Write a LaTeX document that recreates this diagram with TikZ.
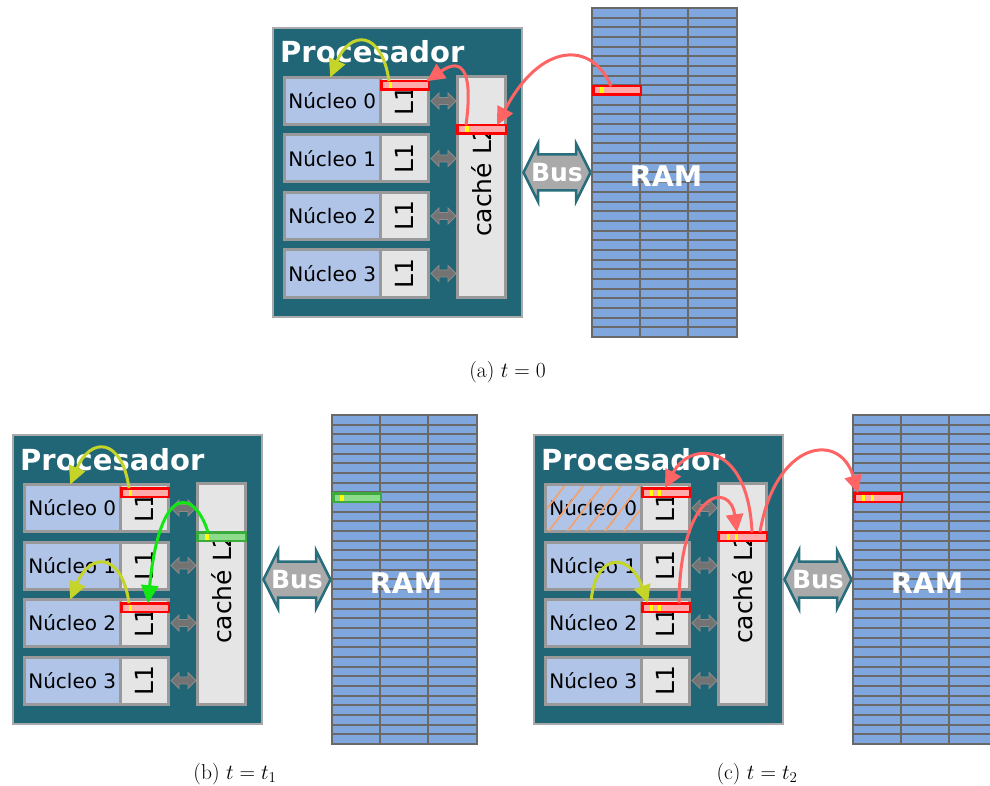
\documentclass[tikz,border=0pt]{standalone}
\usepackage{fix-cm}
\usepackage{fontspec}
\newfontfamily\dejavu{DejaVu Sans}
\usetikzlibrary{arrows.meta}

\definecolor{proc}{RGB}{33,102,118}
\definecolor{procedge}{RGB}{170,170,170}
\definecolor{coreblue}{RGB}{176,196,232}
\definecolor{cachegray}{RGB}{229,229,229}
\definecolor{boxedge}{RGB}{153,153,153}
\definecolor{linkgray}{RGB}{115,115,115}
\definecolor{linkedge}{RGB}{140,140,140}
\definecolor{busgray}{RGB}{170,170,170}
\definecolor{busedge}{RGB}{40,110,125}
\definecolor{ramblue}{RGB}{128,166,222}
\definecolor{ramline}{RGB}{105,105,105}
\definecolor{hlredline}{RGB}{255,0,0}
\definecolor{hlredfill}{RGB}{255,170,170}
\definecolor{hlgreenline}{RGB}{60,170,60}
\definecolor{hlgreenfill}{RGB}{140,220,140}
\definecolor{markyellow}{RGB}{255,255,0}
\definecolor{flowred}{RGB}{255,100,100}
\definecolor{flowyg}{RGB}{196,212,40}
\definecolor{flowgreen}{RGB}{20,230,20}
\definecolor{hatchorange}{RGB}{242,164,112}

\tikzset{
  procbox/.style={draw=procedge, fill=proc, line width=2, inner sep=0, outer sep=0},
  proclabel/.style={text=white, font=\dejavu\bfseries\fontsize{29}{34}\selectfont, inner sep=0},
  corebox/.style={draw=boxedge, fill=coreblue, line width=3, inner sep=0, outer sep=0,
    font=\dejavu\fontsize{20}{24}\selectfont},
  cachebox/.style={draw=boxedge, fill=cachegray, line width=3, inner sep=0, outer sep=0},
  cachelabel/.style={font=\dejavu\fontsize{25}{30}\selectfont, inner sep=0, rotate=90},
  linkshape/.style={fill=linkgray, draw=linkedge, line width=0.8},
  busshape/.style={fill=busgray, draw=busedge, line width=2.5, line join=miter},
  buslabel/.style={text=white, font=\dejavu\bfseries\fontsize{25}{30}\selectfont, inner sep=0},
  rambox/.style={fill=ramblue, draw=ramline, line width=2, inner sep=0, outer sep=0},
  ramgrid/.style={draw=ramline, line width=2},
  ramlabel/.style={text=white, font=\dejavu\bfseries\fontsize{28.5}{34}\selectfont, inner sep=0},
  hlred/.style={draw=hlredline, fill=hlredfill, line width=2.5, inner sep=0, outer sep=0},
  hlgreen/.style={draw=hlgreenline, fill=hlgreenfill, line width=2.5, inner sep=0, outer sep=0},
  flow/.style={line width=3, -{Triangle[length=18pt,width=17pt]}},
  redflow/.style={flow, color=flowred},
  ygflow/.style={flow, color=flowyg},
  greenflow/.style={flow, color=flowgreen},
  hatchline/.style={draw=hatchorange, line width=1.8},
  caption/.style={font=\fontsize{21.5}{26}\selectfont, inner sep=0},
}

% fat double arrow between an L1 and the L2 cache
\newcommand\linkarrow[2]{%
  \filldraw[linkshape] (#1-12.5,#2) -- (#1-4.5,#2-8) -- (#1-4.5,#2-3.5) -- (#1+4.5,#2-3.5)
    -- (#1+4.5,#2-8) -- (#1+12.5,#2) -- (#1+4.5,#2+8) -- (#1+4.5,#2+3.5)
    -- (#1-4.5,#2+3.5) -- (#1-4.5,#2+8) -- cycle;}

% highlighted cache line: name, style, left, top, width, mark offsets
\newcommand\hlbox[6]{%
  \node[#2, minimum width=#5-2.5, minimum height=8.5, anchor=north west] (#1) at (#3+1.25,#4+1.25) {};
  \foreach \m in {#6} {\fill[markyellow] (#3+\m,#4+2.5) rectangle ++(3.5,6);}
}

% processor with four cores, L2, bus and memory; #1 prefixes the node names
\newcommand\panelbase[1]{%
  \node[procbox, minimum width=248.7, minimum height=289.3, anchor=north west] (#1proc) at (273,28) {};
  \node[proclabel, anchor=base west] (#1proctext) at (280,63) {Procesador};
  \foreach \r in {0,1,2,3} {
    \pgfmathsetmacro\ytop{76+57.5*\r}
    \node[corebox, minimum width=95.5, minimum height=47, anchor=north west] (#1core\r) at (284.5,\ytop+1.5) {Núcleo \r};
    \node[cachebox, minimum width=48.5, minimum height=47, anchor=north west] (#1lone\r) at (380,\ytop+1.5) {};
    \node[cachelabel] (#1lonetext\r) at (#1lone\r.center) {L1};
    \linkarrow{443.5}{\ytop+25}
  }
  \node[cachebox, minimum width=48, minimum height=221] (#1ltwo) at (481.5,187) {};
  \node[cachelabel] (#1ltwotext) at (481.5,181) {caché L2};
  \filldraw[busshape] (523.5,172.5) -- (538,143.5) -- (538,154.5) -- (576,154.5) -- (576,143.5)
    -- (590.5,172.5) -- (576,201.5) -- (576,190.5) -- (538,190.5) -- (538,201.5) -- cycle;
  \node[buslabel] (#1bus) at (557,173) {Bus};
  \node[rambox, minimum width=145, minimum height=329, anchor=north west] (#1ram) at (592,8) {};
  \foreach \k in {1,...,33} {
    \pgfmathsetmacro\yrow{round(8+\k*9.676)}
    \draw[ramgrid] (592,\yrow) -- (737,\yrow);
  }
  \draw[ramgrid] (640,8) -- (640,337) (688,8) -- (688,337);
  \draw[ramgrid] (592,8) rectangle (737,337);
  \node[ramlabel] (#1ramtext) at (666,176) {RAM};
}

\begin{document}
\begin{tikzpicture}[x=1pt, y=-1pt]
\useasboundingbox (0,0) rectangle (990,786);
\clip (0,0) rectangle (990,786);

% (a) initial state
\begin{scope}
  \panelbase{a}
  \hlbox{al1hl}{hlred}{380}{80}{50}{8.5}
  \hlbox{al2hl}{hlred}{456}{124}{51}{9}
  \hlbox{aramhl}{hlred}{592}{85}{50}{8}
  \draw[redflow] ([xshift=-6]aramhl.north) .. controls +(-19,-46) and +(43,-83) .. ([xshift=15.5]al2hl.north);
  \draw[redflow] ([xshift=-15.5]al2hl.north) .. controls +(10,-75) and +(23,-16) .. ([xshift=-2]al1hl.north east);
  \draw[ygflow] ([xshift=-16]al1hl.north) .. controls +(-7,-51) and +(20,-48) .. ([xshift=-2]acore0.north);
\end{scope}

% (b) a second core reads the same line
\begin{scope}[shift={(-260,407)}]
  \panelbase{b}
  \hlbox{bl1hlA}{hlred}{380}{80}{50}{8.5}
  \hlbox{bl1hlB}{hlred}{380}{195}{50}{8.5}
  \hlbox{bl2hl}{hlgreen}{456}{124}{51}{9}
  \hlbox{bramhl}{hlgreen}{592}{85}{50}{8}
  \draw[ygflow] ([xshift=-16]bl1hlA.north) .. controls +(-7,-51) and +(20,-48) .. ([xshift=-2]bcore0.north);
  \draw[greenflow] ([xshift=-13.5]bl2hl.north) .. controls +(-13,-42) and +(12,-123) .. ([xshift=3]bl1hlB.north);
  \draw[ygflow] ([xshift=-16]bl1hlB.north) .. controls +(-7,-51) and +(20,-48) .. ([xshift=-2]bcore2.north);
\end{scope}

% (c) core 2 writes; the line is propagated
\begin{scope}[shift={(261,407)}]
  \panelbase{c}
  \begin{scope}
    \clip (286,79) rectangle (378.5,123);
    \foreach \k in {-1,...,5} {\draw[hatchline] (304+18.8*\k-35,124) -- (304+18.8*\k,78);}
  \end{scope}
  \hlbox{cl1hlA}{hlred}{380}{80}{50}{8.5,16.5}
  \hlbox{cl1hlB}{hlred}{380}{195}{50}{8.5,16.5}
  \hlbox{cl2hl}{hlred}{456}{124}{51}{9.5,17.5}
  \hlbox{cramhl}{hlred}{592}{85}{50}{8.5,17.5}
  \draw[ygflow] ([xshift=-2]ccore2.north) .. controls +(5,-47.5) and +(-18,-51) .. ([xshift=-18]cl1hlB.north);
  \draw[redflow] ([xshift=13]cl1hlB.north) .. controls +(1,-113) and +(-7,-52) .. ([xshift=-5.5]cl2hl.north);
  \draw[redflow] ([xshift=9.5]cl2hl.north) .. controls +(-4,-91) and +(25,-48) .. ([xshift=-1]cl1hlA.north);
  \draw[redflow] ([xshift=17.5]cl2hl.north) .. controls +(15,-91) and +(-18,-63) .. ([xshift=-20]cramhl.north);
\end{scope}

\node[caption, anchor=base] (capa) at (507.5,377) {(a) $t=0$};
\node[caption, anchor=base] (capb) at (235,779) {(b) $t=t_1$};
\node[caption, anchor=base] (capc) at (757,779) {(c) $t=t_2$};
\end{tikzpicture}
\end{document}
